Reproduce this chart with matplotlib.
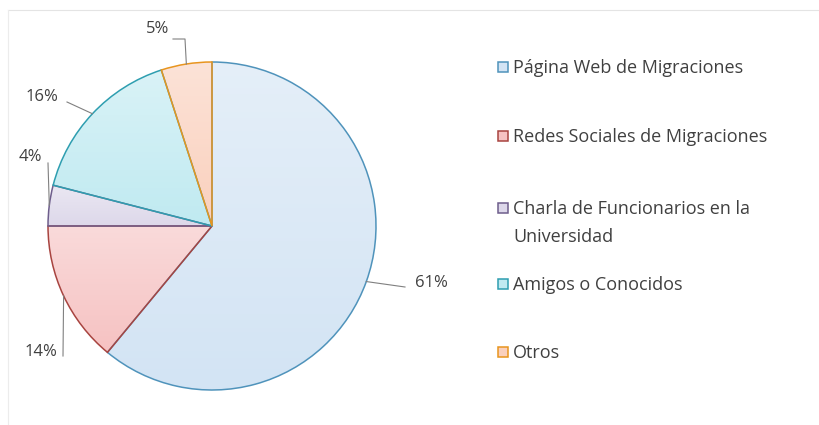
import numpy as np
import matplotlib.pyplot as plt
from matplotlib.colors import to_rgb

labels = [
    "Página Web de Migraciones",
    "Redes Sociales de Migraciones",
    "Charla de Funcionarios en la\nUniversidad",
    "Amigos o Conocidos",
    "Otros",
]
shares = [61, 14, 4, 16, 5]
pct_labels = ["61%", "14%", "4%", "16%", "5%"]

fill_colors = ["#d3e4f4", "#f6c2c2", "#ddd8ea", "#c0eaf1", "#fad0bd"]
edge_colors = ["#4f93bb", "#a84440", "#6e5e8c", "#2e9eb0", "#e8951e"]

W, H = 820, 425
plt.rcParams["font.family"] = ["Open Sans", "DejaVu Sans"]
txt_color = "#404040"

fig = plt.figure(figsize=(W / 100, H / 100), dpi=100)
ax = fig.add_axes([0, 0, 1, 1])

# faint chart frame (top and left edges only visible)
ax.plot([8, W], [H - 10, H - 10], color="#e4e4e4", lw=0.8)
ax.plot([8, 8], [0, H - 10], color="#ececec", lw=0.8)

cx, cy, r = 212, H - 226, 164
wedges, _ = ax.pie(
    shares,
    center=(cx, cy),
    radius=r,
    startangle=90,
    counterclock=False,
    colors=fill_colors,
    wedgeprops=dict(linewidth=1.1),
    frame=True,
)

# soft vertical gradient inside each slice, lighter at the top
for w, fc, ec in zip(wedges, fill_colors, edge_colors):
    w.set_edgecolor(ec)
    base = np.array(to_rgb(fc))
    top = base + (1 - base) * 0.4
    t = np.linspace(0, 1, 64)[:, None]
    grad = top * (1 - t) + base * t
    bb = w.get_path().get_extents(w.get_patch_transform())
    im = ax.imshow(grad[:, None, :].repeat(2, axis=1),
                   extent=[bb.x0, bb.x1, bb.y0, bb.y1], origin="upper",
                   aspect="auto", zorder=2, interpolation="bilinear")
    im.set_clip_path(w)
    w.set_facecolor("none")
    w.set_zorder(3)

ax.set_xlim(0, W)
ax.set_ylim(0, H)
ax.set_aspect("equal")
ax.axis("off")

# label text positions and leader line bends (pixel layout, y from top)
text_pos = [(431, 283), (41, 352), (30, 157), (42, 97), (158, 29)]
line_ends = [
    [(405, 287)],
    [(63, 356)],
    [(48, 163)],
    [(67, 102)],
    [(185, 39), (173, 39)],
]

for w, pct, tp, ends in zip(wedges, pct_labels, text_pos, line_ends):
    mid = np.deg2rad((w.theta1 + w.theta2) / 2)
    ex, ey = cx + r * np.cos(mid), cy + r * np.sin(mid)
    xs = [ex] + [p[0] for p in ends]
    ys = [ey] + [H - p[1] for p in ends]
    ax.plot(xs, ys, color="#808080", lw=0.8, zorder=4)
    ax.text(tp[0], H - tp[1], pct, fontsize=12, color=txt_color,
            ha="center", va="center")

# legend
legend_y = [67, 136, 208, 284, 352]
for lab, fc, ec, ly in zip(labels, fill_colors, edge_colors, legend_y):
    ax.add_patch(plt.Rectangle((498, H - ly - 5), 10, 10, facecolor=fc,
                               edgecolor=ec, lw=1.1))
    ax.text(513, H - ly + 8, lab, fontsize=13, color=txt_color,
            ha="left", va="top", linespacing=1.7)

fig.savefig("out.png", dpi=100)
